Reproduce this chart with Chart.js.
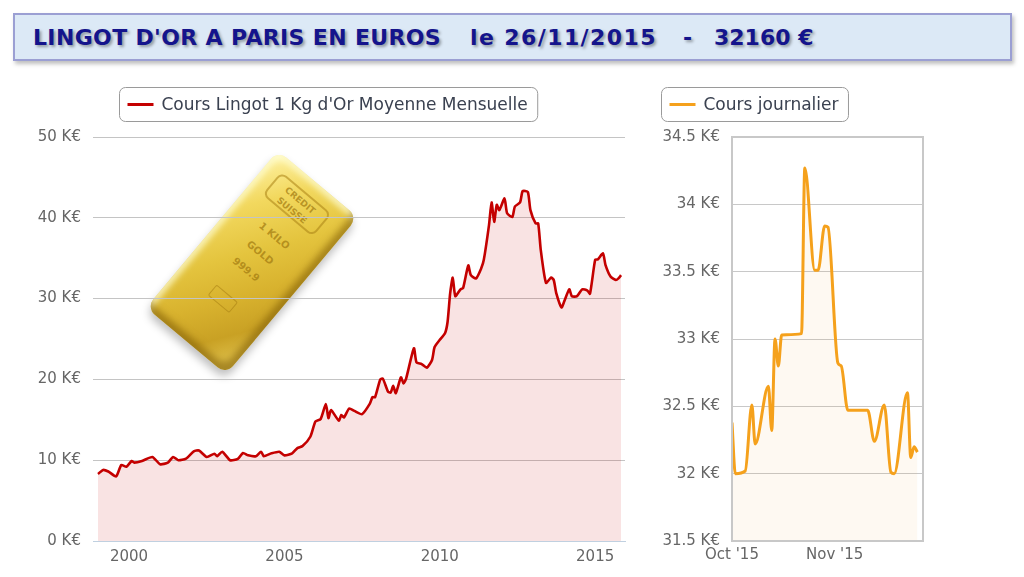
<!DOCTYPE html>
<html>
<head>
<meta charset="utf-8">
<script src="https://cdn.jsdelivr.net/npm/chart.js@4.4.1/dist/chart.umd.min.js"></script>
<style>
html,body{margin:0;padding:0;background:#fff;width:1024px;height:577px;overflow:hidden;font-family:"DejaVu Sans",sans-serif;}
#titlebox{position:absolute;left:13px;top:13px;width:995px;height:44px;background:#dce9f6;border:2px solid #9b9fd3;box-shadow:2px 3px 4px rgba(0,0,0,0.25);}
.t{position:absolute;top:25px;font:bold 22px "DejaVu Sans",sans-serif;color:#14148c;text-shadow:2px 2px 3px rgba(0,0,0,0.35);white-space:pre;line-height:26px;}
#bar{position:absolute;left:200px;top:160px;width:104px;height:205px;transform:rotate(40deg);border-radius:11px;
 background:linear-gradient(125deg,#fff3a6 0%,#f2d85e 22%,#e4c43e 45%,#d8b22e 65%,#c9a124 82%,#e6cb58 100%);
 box-shadow:inset -6px -6px 7px rgba(120,85,0,0.55), inset 4px 4px 6px rgba(255,255,215,0.8), 3px 5px 8px rgba(0,0,0,0.25);}
#bar .stamp{position:absolute;left:16px;top:14px;width:66px;height:30px;border:2px solid rgba(170,130,20,0.55);border-radius:7px;
 font:bold 9px "DejaVu Sans",sans-serif;color:rgba(160,120,15,0.7);text-align:center;line-height:13px;padding-top:2px;box-sizing:border-box;}
#bar .eng{position:absolute;left:0;width:104px;text-align:center;font:bold 10px "DejaVu Sans",sans-serif;color:rgba(160,120,15,0.7);}
#bar .plate{position:absolute;left:39px;top:142px;width:26px;height:12px;border:1px solid rgba(170,130,20,0.6);border-radius:2px;}
.wrap{position:absolute;}
</style>
</head>
<body>
<div id="titlebox"></div>
<span class="t" style="left:33px;letter-spacing:0.35px">LINGOT D'OR A PARIS EN EUROS</span>
<span class="t" style="left:470px;letter-spacing:1.4px">le 26/11/2015</span>
<span class="t" style="left:683px">-</span>
<span class="t" style="left:714px">32160 €</span>

<div id="bar">
  <div class="stamp">CREDIT<br>SUISSE</div>
  <div class="eng" style="top:62px">1 KILO</div>
  <div class="eng" style="top:84px">GOLD</div>
  <div class="eng" style="top:106px">999.9</div>
  <div class="plate"></div>
</div>

<div class="wrap" style="left:0;top:80px;width:657px;height:497px;"><canvas id="c1"></canvas></div>
<div class="wrap" style="left:600px;top:80px;width:330px;height:497px;"><canvas id="c2"></canvas></div>

<script>
// ---------- DATA ----------
const monthlySeriesName = "Cours Lingot 1 Kg d'Or Moyenne Mensuelle";
const monthlyMonths = [
 "1999-01","1999-03","1999-05","1999-08","1999-10","1999-12",
 "2000-02","2000-03","2000-06","2000-10",
 "2001-01","2001-04","2001-06","2001-08","2001-11",
 "2002-02","2002-04","2002-07","2002-10","2002-11",
 "2003-01","2003-04","2003-07","2003-09","2003-11",
 "2004-02","2004-04","2004-05","2004-08","2004-11",
 "2005-01","2005-04","2005-06","2005-08","2005-11",
 "2006-01","2006-03","2006-05","2006-06","2006-07","2006-10","2006-11","2006-12",
 "2007-02","2007-04","2007-07","2007-10","2007-11","2007-12",
 "2008-02","2008-03","2008-05","2008-06","2008-07","2008-08","2008-10","2008-11","2008-12",
 "2009-03","2009-04","2009-06","2009-08","2009-10","2009-11",
 "2010-01","2010-03","2010-04","2010-05","2010-06","2010-07","2010-09","2010-10","2010-12",
 "2011-01","2011-03","2011-05","2011-06","2011-08","2011-09","2011-10","2011-11","2011-12",
 "2012-02","2012-03","2012-05","2012-06","2012-08","2012-09","2012-11","2012-12",
 "2013-02","2013-03","2013-04","2013-06","2013-08","2013-09","2013-10","2013-12",
 "2014-01","2014-03","2014-04","2014-06","2014-08","2014-10","2014-11",
 "2015-01","2015-02","2015-04","2015-05","2015-07","2015-09","2015-10","2015-11"
];
const monthlyValues = [
 8.3,8.8,8.6,8.0,9.4,9.2,
 9.9,9.7,9.9,10.4,
 9.5,9.7,10.4,10.0,10.2,
 11.1,11.2,10.4,10.8,10.5,
 11.05,10.0,10.15,10.9,10.6,
 10.5,11.05,10.5,10.85,11.05,
 10.6,10.85,11.5,11.75,12.9,
 14.8,15.1,16.95,15.2,16.2,14.9,15.6,15.3,
 16.4,16.1,15.7,17.0,17.8,17.8,
 20.0,20.1,18.5,18.35,19.2,18.3,20.25,19.5,20.1,
 23.85,22.1,21.9,21.45,22.4,24.0,
 24.9,25.7,27.1,30.65,32.6,30.3,31.15,31.3,34.1,
 32.9,32.5,33.75,34.8,39.1,41.9,39.5,41.6,40.95,
 42.4,40.55,40.1,41.4,41.9,43.3,43.2,40.95,
 39.3,39.3,36.0,31.95,32.6,32.3,30.65,28.9,
 29.6,31.15,30.3,30.3,31.15,31.0,30.6,
 34.8,34.85,35.6,34.15,32.7,32.3,32.5,32.9
];
const yearTicks = [2000, 2005, 2010, 2015];
const monthlyYTicks = [0, 10, 20, 30, 40, 50];

const dailySeriesName = "Cours journalier";
// day offset from 1 Oct 2015
const dailyDays = [0,1,4,6,7,11,12,13,14,15,21,22,25,26,28,29,32,33,35,41,43,46,48,49,53,54,55,56];
const dailyValues = [32.38,32.0,32.02,32.51,32.22,32.65,32.32,33.0,32.8,33.03,33.04,34.27,33.51,33.51,33.84,33.83,32.82,32.8,32.47,32.47,32.24,32.51,32.01,32.0,32.6,32.12,32.2,32.16];
const dailyTickDays = [0, 31];
const dailyTickLabels = ["Oct '15", "Nov '15"];
const dailyYTicks = [31.5, 32, 32.5, 33, 33.5, 34, 34.5];

// ---------- HELPERS ----------
function monthToYear(s){ const p = s.split('-'); return +p[0] + (+p[1]-1)/12; }

const legendBox = {
  id: 'legendBox',
  afterDraw(chart, args, o) {
    const ds = chart.data.datasets[0];
    const ctx = chart.ctx;
    ctx.save();
    ctx.font = o.font;
    const tw = ctx.measureText(ds.label).width;
    const w = o.padL + o.lineW + o.gap + tw + o.padR;
    const x = Math.round(o.cx - w/2) + 0.5, y = o.top + 0.5, h = o.height;
    ctx.beginPath();
    ctx.roundRect(x, y, w, h, 6);
    ctx.fillStyle = '#fff'; ctx.fill();
    ctx.strokeStyle = '#9a9a9a'; ctx.lineWidth = 1; ctx.stroke();
    ctx.strokeStyle = ds.borderColor; ctx.lineWidth = 3;
    ctx.beginPath();
    ctx.moveTo(x + o.padL, y + h/2); ctx.lineTo(x + o.padL + o.lineW, y + h/2); ctx.stroke();
    ctx.fillStyle = '#3a4150'; ctx.textBaseline = 'middle'; ctx.textAlign = 'left';
    ctx.fillText(ds.label, x + o.padL + o.lineW + o.gap, y + h/2 + 1);
    ctx.restore();
  }
};
const plotBorder = {
  id: 'plotBorder',
  afterDraw(chart, args, o) {
    if (!o || !o.show) return;
    const a = chart.chartArea, ctx = chart.ctx;
    ctx.save();
    ctx.strokeStyle = '#c8c8c8'; ctx.lineWidth = 2;
    ctx.strokeRect(a.left, a.top, a.right - a.left, a.bottom - a.top);
    ctx.restore();
  }
};
Chart.register(legendBox, plotBorder);

const tickFont = {family: 'DejaVu Sans', size: 15};
const tickColor = '#666666';

// ---------- LEFT CHART ----------
new Chart(document.getElementById('c1'), {
  type: 'line',
  data: { datasets: [{
    label: monthlySeriesName,
    data: monthlyMonths.map((m, i) => ({x: monthToYear(m), y: monthlyValues[i]})),
    borderColor: '#c40000',
    backgroundColor: 'rgba(204,0,0,0.11)',
    fill: 'origin', borderWidth: 2.6, pointRadius: 0, tension: 0.2
  }]},
  options: {
    responsive: true, maintainAspectRatio: false, animation: false,
    layout: {padding: {top: 57, right: 32, left: 0, bottom: 0}},
    plugins: {
      legend: {display: false}, tooltip: {enabled: false},
      legendBox: {cx: 328.5, top: 7, height: 34, padL: 8, lineW: 26, gap: 8, padR: 10, font: '17px "DejaVu Sans"'},
      plotBorder: {show: false}
    },
    scales: {
      x: {
        type: 'linear', min: 1998.84, max: 2015.96,
        afterBuildTicks: s => { s.ticks = yearTicks.map(v => ({value: v})); },
        afterFit: s => { s.height = 36; },
        ticks: {autoSkip: false, maxRotation: 0, padding: 7, color: tickColor, font: tickFont, callback: v => String(v)},
        grid: {display: false, drawTicks: false},
        border: {display: true, color: '#c0d0e0'}
      },
      y: {
        min: 0, max: 50,
        afterBuildTicks: s => { s.ticks = monthlyYTicks.map(v => ({value: v})); },
        afterFit: s => { s.width = 93; },
        ticks: {padding: 12, color: tickColor, font: tickFont, callback: v => v + ' K€'},
        grid: {color: '#c4c4c4', drawTicks: false},
        border: {display: false}
      }
    }
  }
});

// ---------- RIGHT CHART ----------
new Chart(document.getElementById('c2'), {
  type: 'line',
  data: { datasets: [{
    label: dailySeriesName,
    data: dailyDays.map((d, i) => ({x: d, y: dailyValues[i]})),
    borderColor: '#f5a11c',
    backgroundColor: 'rgba(244,160,32,0.06)',
    fill: 'start', borderWidth: 3, pointRadius: 0, cubicInterpolationMode: 'monotone'
  }]},
  options: {
    responsive: true, maintainAspectRatio: false, animation: false,
    layout: {padding: {top: 57, right: 7, left: 0, bottom: 0}},
    plugins: {
      legend: {display: false}, tooltip: {enabled: false},
      legendBox: {cx: 154, top: 7, height: 34, padL: 8, lineW: 26, gap: 8, padR: 10, font: '17px "DejaVu Sans"'},
      plotBorder: {show: true}
    },
    scales: {
      x: {
        type: 'linear', min: 0, max: 57.7,
        afterBuildTicks: s => { s.ticks = dailyTickDays.map(v => ({value: v})); },
        afterFit: s => { s.height = 36; },
        ticks: {autoSkip: false, maxRotation: 0, padding: 5, color: tickColor, font: tickFont,
                callback: v => dailyTickLabels[dailyTickDays.indexOf(v)]},
        grid: {display: false, drawTicks: false},
        border: {display: false}
      },
      y: {
        min: 31.5, max: 34.5,
        afterBuildTicks: s => { s.ticks = dailyYTicks.map(v => ({value: v})); },
        afterFit: s => { s.width = 132; },
        ticks: {padding: 12, color: tickColor, font: tickFont, callback: v => (Math.round(v*10)/10) + ' K€'},
        grid: {color: '#c8c8c8', drawTicks: false},
        border: {display: false}
      }
    }
  }
});
</script>
</body>
</html>
